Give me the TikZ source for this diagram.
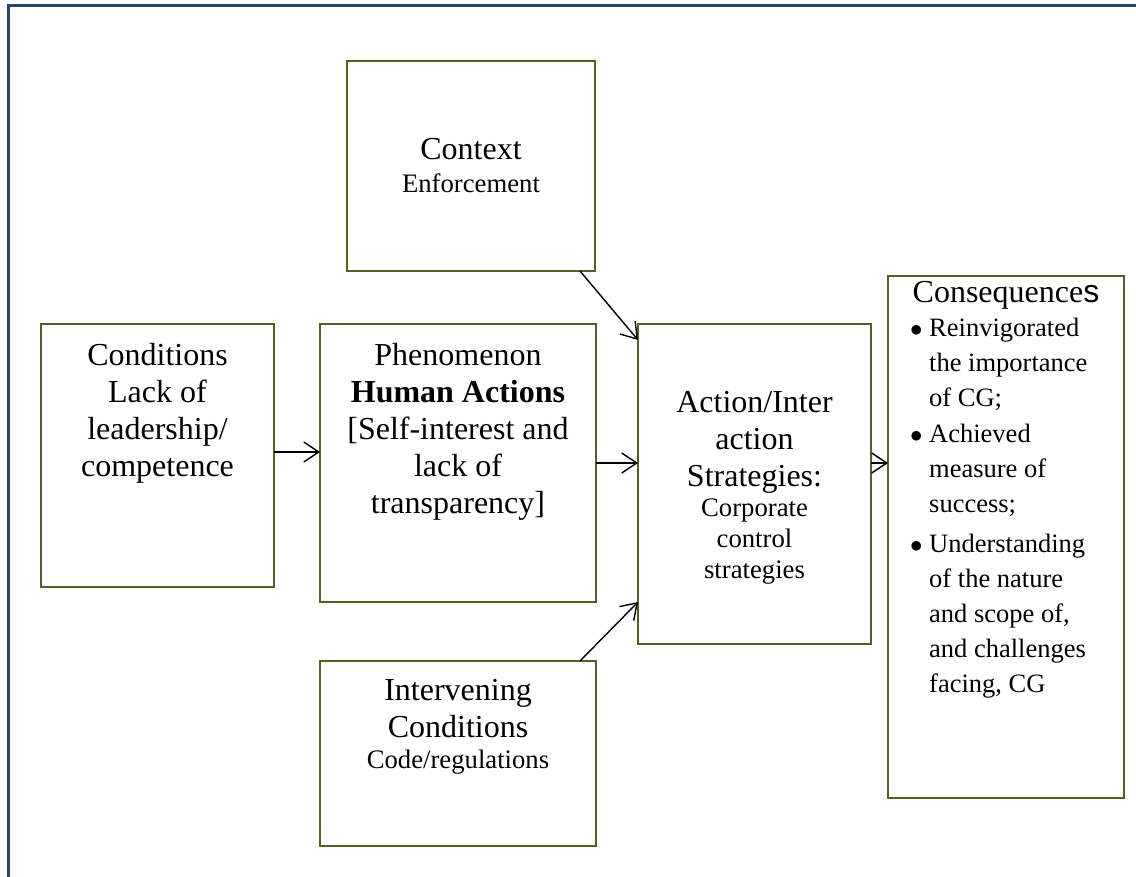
\documentclass[tikz,border=0pt]{standalone}
\usepackage{fontspec}
\setmainfont{Liberation Serif}
\newfontfamily\arialfont{Liberation Sans}
\usetikzlibrary{arrows.meta}
\definecolor{FrameBlue}{HTML}{2A4468}
\definecolor{BoxOlive}{HTML}{4F6228}
\newcommand{\bigtxt}{\fontsize{32}{37}\selectfont}
\newcommand{\smalltxt}{\fontsize{26.7}{31}\selectfont}
\newcommand{\listtxt}{\fontsize{26.5}{35}\selectfont}

\begin{document}
\begin{tikzpicture}[x=1pt,y=-1pt,
    stagebox/.style={draw=BoxOlive, line width=2.2pt, inner sep=0pt, outer sep=0pt},
    boxtext/.style={inner sep=0pt, align=center},
    flow/.style={line width=1.4pt, -{Straight Barb[length=15pt,width=20pt]}}]
    \useasboundingbox (0,0) rectangle (1136,877);
    \draw[FrameBlue, line width=3pt] (8,877) -- (8,6) -- (1136,6);

    % boxes
    \node[stagebox, minimum width=233, minimum height=263, anchor=north west] (cond) at (41,324) {};
    \node[stagebox, minimum width=276, minimum height=278, anchor=north west] (phen) at ([xshift=46]cond.north east) {};
    \node[stagebox, minimum width=248, minimum height=210, anchor=north west] (ctx) at (347,61) {};
    \node[stagebox, minimum width=276, minimum height=185, anchor=north west] (inter) at ([yshift=-59]phen.south west) {};
    \node[stagebox, minimum width=233, minimum height=320, anchor=north west] (act) at ([xshift=42]phen.north east) {};
    \node[stagebox, minimum width=236, minimum height=522, anchor=north west] (cons) at (888,276) {};

    % texts
    \node[boxtext, font=\bigtxt, anchor=north] (condtxt) at ([yshift=-19]cond.north) {Conditions\\Lack of\\leadership/\\competence};
    \node[boxtext, font=\bigtxt, anchor=north] (phentxt) at ([yshift=-19]phen.north) {Phenomenon\\\textbf{Human Actions}\\{}[Self-interest and\\lack of\\transparency]};
    \node[boxtext, font=\bigtxt, anchor=base] (ctxhead) at ([yshift=6]ctx.center) {Context};
    \node[boxtext, font=\smalltxt, anchor=base] (ctxsub) at ([yshift=-27]ctx.center) {Enforcement};
    \node[boxtext, font=\bigtxt, anchor=north] (interhead) at ([yshift=-18]inter.north) {Intervening\\Conditions};
    \node[boxtext, font=\smalltxt, anchor=base] (intersub) at ([yshift=-107]inter.north) {Code/regulations};
    \node[boxtext, font=\bigtxt, anchor=north] (acthead) at ([yshift=-67]act.north) {Action/Inter\\action\\Strategies:};
    \node[boxtext, font=\smalltxt, anchor=north] (actsub) at ([yshift=-175]act.north) {Corporate\\control\\strategies};
    \node[boxtext, font=\bigtxt, anchor=base] (conshead) at ([yshift=-27]cons.north) {Consequence{\arialfont s}};
    \node[inner sep=0pt, font=\listtxt, anchor=base west] (conslist) at ([xshift=22,yshift=-61]cons.north west) {%
        \begin{tabular}[t]{@{}l@{}l@{}}
            \makebox[19pt][l]{$\bullet$} & Reinvigorated\\
             & the importance\\
             & of CG;\\[1pt]
            $\bullet$ & Achieved\\
             & measure of\\
             & success;\\[5pt]
            $\bullet$ & Understanding\\
             & of the nature\\
             & and scope of,\\
             & and challenges\\
             & facing, CG
        \end{tabular}};

    % arrows
    \draw[flow] ([yshift=3.5]cond.east) -- ([yshift=3.5]cond.east -| phen.west);
    \draw[flow] (phen.east) -- (phen.east -| act.west);
    \draw[flow] ([yshift=21]act.east) -- ([yshift=21]act.east -| cons.west);
    \draw[flow] ([xshift=-15]ctx.south east) -- ([yshift=-16]act.north west);
    \draw[flow] ([xshift=-16]inter.north east) -- ([yshift=42]act.south west);
\end{tikzpicture}
\end{document}
